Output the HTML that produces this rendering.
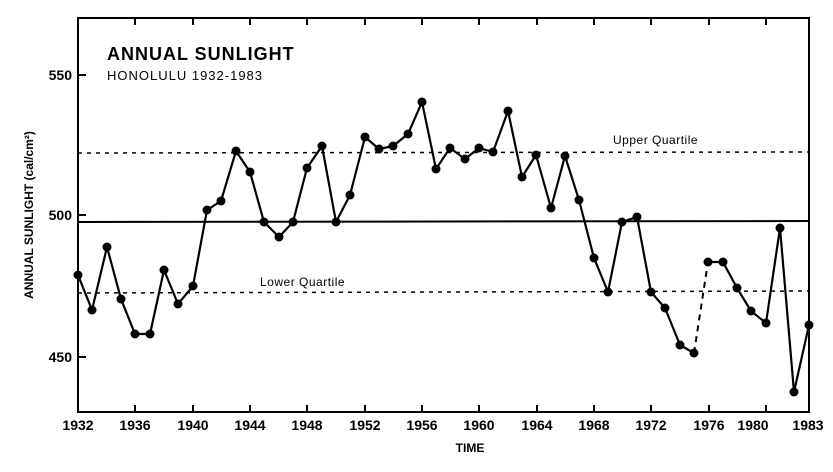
<!DOCTYPE html>
<html><head><style>body{margin:0;background:#fff}</style></head><body>
<svg width="833" height="467" xmlns="http://www.w3.org/2000/svg" font-family="Liberation Sans, sans-serif">
<rect x="0" y="0" width="833" height="467" fill="#fff"/>
<rect x="78" y="18" width="731" height="394" fill="none" stroke="#000" stroke-width="2"/>
<g stroke="#000" stroke-width="2">
<line x1="78" y1="75" x2="86" y2="75"/><line x1="78" y1="215" x2="86" y2="215"/><line x1="78" y1="357" x2="86" y2="357"/>
</g>
<g stroke="#000" stroke-width="2">
<line x1="135" y1="412" x2="135" y2="405"/><line x1="193" y1="412" x2="193" y2="405"/><line x1="250" y1="412" x2="250" y2="405"/><line x1="307" y1="412" x2="307" y2="405"/><line x1="365" y1="412" x2="365" y2="405"/><line x1="422" y1="412" x2="422" y2="405"/><line x1="479" y1="412" x2="479" y2="405"/><line x1="537" y1="412" x2="537" y2="405"/><line x1="594" y1="412" x2="594" y2="405"/><line x1="651" y1="412" x2="651" y2="405"/><line x1="709" y1="412" x2="709" y2="405"/><line x1="766" y1="412" x2="766" y2="405"/>
<line x1="135" y1="18" x2="135" y2="25"/><line x1="193" y1="18" x2="193" y2="25"/><line x1="250" y1="18" x2="250" y2="25"/><line x1="307" y1="18" x2="307" y2="25"/><line x1="365" y1="18" x2="365" y2="25"/><line x1="422" y1="18" x2="422" y2="25"/><line x1="479" y1="18" x2="479" y2="25"/><line x1="537" y1="18" x2="537" y2="25"/><line x1="594" y1="18" x2="594" y2="25"/><line x1="651" y1="18" x2="651" y2="25"/><line x1="709" y1="18" x2="709" y2="25"/><line x1="766" y1="18" x2="766" y2="25"/>
</g>
<line x1="78" y1="153" x2="809" y2="152" stroke="#000" stroke-width="1.5" stroke-dasharray="4,5"/>
<line x1="78" y1="222" x2="809" y2="221" stroke="#000" stroke-width="2"/>
<line x1="78" y1="293" x2="809" y2="291" stroke="#000" stroke-width="1.5" stroke-dasharray="4,5"/>
<g font-size="14" font-weight="bold" text-anchor="end">
<text x="72" y="80">550</text><text x="72" y="220">500</text><text x="72" y="362">450</text>
</g>
<g font-size="14" font-weight="bold" text-anchor="middle">
<text x="78" y="430">1932</text><text x="135" y="430">1936</text><text x="193" y="430">1940</text><text x="250" y="430">1944</text><text x="307" y="430">1948</text><text x="365" y="430">1952</text><text x="422" y="430">1956</text><text x="479" y="430">1960</text><text x="537" y="430">1964</text><text x="594" y="430">1968</text><text x="651" y="430">1972</text><text x="709" y="430">1976</text><text x="753" y="430">1980</text><text x="808" y="430">1983</text>
<text x="470" y="452" font-size="12">TIME</text>
</g>
<text x="107" y="60" font-size="18" font-weight="bold" letter-spacing="1">ANNUAL SUNLIGHT</text>
<text x="107" y="80" font-size="13" letter-spacing="1">HONOLULU 1932-1983</text>
<text x="613" y="144" font-size="12" letter-spacing="0.5">Upper Quartile</text>
<text x="260" y="286" font-size="12" letter-spacing="0.5">Lower Quartile</text>
<text transform="translate(33,215) rotate(-90)" font-size="12" font-weight="bold" text-anchor="middle">ANNUAL SUNLIGHT (cal/cm²)</text>
<polyline fill="none" stroke="#000" stroke-width="2.2" stroke-linejoin="round" points="78,275 92,310 107,247 121,299 135,334 150,334 164,270 178,304 193,286 207,210 221,201 236,151 250,172 264,222 279,237 293,222 307,168 322,146 336,222 350,195 365,137 379,149 393,146 408,134 422,102 436,169 450,148 465,159 479,148 493,152 508,111 522,177 536,155 551,208 565,156 579,200 594,258 608,292 622,222 637,217 651,292 665,308 680,345 694,353"/>
<line x1="694" y1="353" x2="708" y2="262" stroke="#000" stroke-width="2" stroke-dasharray="6,5"/>
<polyline fill="none" stroke="#000" stroke-width="2.2" stroke-linejoin="round" points="708,262 723,262 737,288 751,311 766,323 780,228 794,392 809,325"/>
<g fill="#000">
<circle cx="78" cy="275" r="4.5"/><circle cx="92" cy="310" r="4.5"/><circle cx="107" cy="247" r="4.5"/><circle cx="121" cy="299" r="4.5"/><circle cx="135" cy="334" r="4.5"/><circle cx="150" cy="334" r="4.5"/><circle cx="164" cy="270" r="4.5"/><circle cx="178" cy="304" r="4.5"/><circle cx="193" cy="286" r="4.5"/><circle cx="207" cy="210" r="4.5"/><circle cx="221" cy="201" r="4.5"/><circle cx="236" cy="151" r="4.5"/><circle cx="250" cy="172" r="4.5"/><circle cx="264" cy="222" r="4.5"/><circle cx="279" cy="237" r="4.5"/><circle cx="293" cy="222" r="4.5"/><circle cx="307" cy="168" r="4.5"/><circle cx="322" cy="146" r="4.5"/><circle cx="336" cy="222" r="4.5"/><circle cx="350" cy="195" r="4.5"/><circle cx="365" cy="137" r="4.5"/><circle cx="379" cy="149" r="4.5"/><circle cx="393" cy="146" r="4.5"/><circle cx="408" cy="134" r="4.5"/><circle cx="422" cy="102" r="4.5"/><circle cx="436" cy="169" r="4.5"/><circle cx="450" cy="148" r="4.5"/><circle cx="465" cy="159" r="4.5"/><circle cx="479" cy="148" r="4.5"/><circle cx="493" cy="152" r="4.5"/><circle cx="508" cy="111" r="4.5"/><circle cx="522" cy="177" r="4.5"/><circle cx="536" cy="155" r="4.5"/><circle cx="551" cy="208" r="4.5"/><circle cx="565" cy="156" r="4.5"/><circle cx="579" cy="200" r="4.5"/><circle cx="594" cy="258" r="4.5"/><circle cx="608" cy="292" r="4.5"/><circle cx="622" cy="222" r="4.5"/><circle cx="637" cy="217" r="4.5"/><circle cx="651" cy="292" r="4.5"/><circle cx="665" cy="308" r="4.5"/><circle cx="680" cy="345" r="4.5"/><circle cx="694" cy="353" r="4.5"/><circle cx="708" cy="262" r="4.5"/><circle cx="723" cy="262" r="4.5"/><circle cx="737" cy="288" r="4.5"/><circle cx="751" cy="311" r="4.5"/><circle cx="766" cy="323" r="4.5"/><circle cx="780" cy="228" r="4.5"/><circle cx="794" cy="392" r="4.5"/><circle cx="809" cy="325" r="4.5"/>
</g>
</svg>
</body></html>
